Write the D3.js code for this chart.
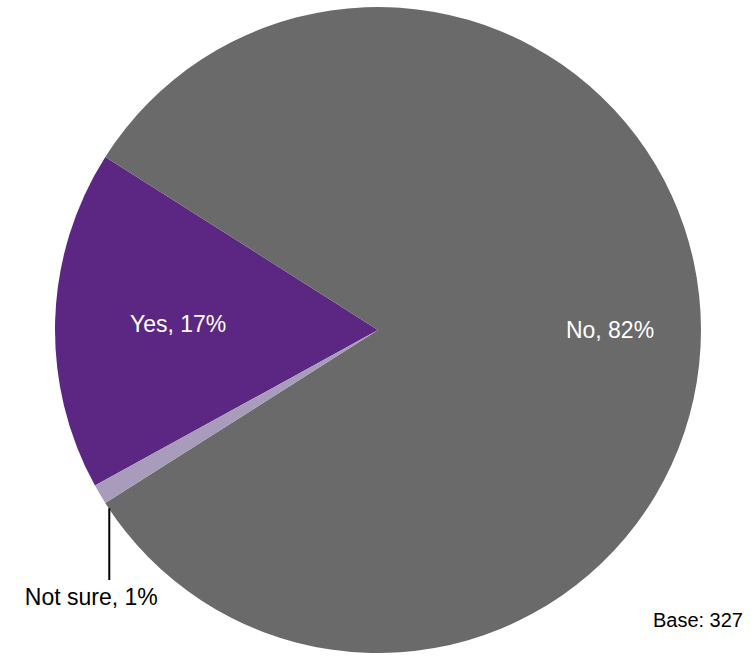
<!DOCTYPE html>
<html>
<head>
<meta charset="utf-8">
<script src="https://cdn.jsdelivr.net/npm/d3@7"></script>
<style>
  body { margin: 0; background: #fff; }
  text { font-family: "Liberation Sans", Arial, sans-serif; }
</style>
</head>
<body>
<script>
const categories = ['Yes', 'No', 'Not sure'];
const values = [17, 82, 1];
const colors = ['#5c2783', '#6a6a6a', '#a99bbb'];
const baseLabel = 'Base: 327';

const svgWidth = 754;
const svgHeight = 656;
const cx = 378, cy = 330, radius = 323;

const data = categories.map((c, i) => ({name: c, value: values[i], color: colors[i]}));

const svg = d3.select('body').append('svg')
    .attr('width', svgWidth)
    .attr('height', svgHeight);

const g = svg.append('g').attr('transform', `translate(${cx}, ${cy})`);

const startDeg = 241.2;
const pie = d3.pie()
    .value(d => d.value)
    .sort(null)
    .startAngle(startDeg * Math.PI / 180)
    .endAngle((startDeg + 360) * Math.PI / 180);

const arcs = pie(data);
const arc = d3.arc().innerRadius(0).outerRadius(radius);

g.selectAll('path')
    .data(arcs)
    .join('path')
    .attr('d', arc)
    .attr('fill', d => d.data.color);

// labels inside the two big slices
const labelRadius = {'Yes': 200, 'No': 232};
const inside = arcs.filter(d => labelRadius[d.data.name]);
g.selectAll('text.inside')
    .data(inside)
    .join('text')
    .attr('class', 'inside')
    .attr('transform', d => {
        const a = (d.startAngle + d.endAngle) / 2;
        const r = labelRadius[d.data.name];
        return `translate(${r * Math.sin(a)}, ${-r * Math.cos(a) + 8})`;
    })
    .attr('text-anchor', 'middle')
    .attr('font-size', 23)
    .attr('fill', '#fff')
    .text(d => `${d.data.name}, ${d.data.value}%`);

// leader line for the small slice
const small = arcs.find(d => d.data.name === 'Not sure');
const am = (small.startAngle + small.endAngle) / 2 - 0.02;
const px = 316 * Math.sin(am), py = -316 * Math.cos(am) + 12;
g.append('line')
    .attr('x1', px).attr('y1', py)
    .attr('x2', px).attr('y2', 250)
    .attr('stroke', '#000')
    .attr('stroke-width', 2);
g.append('text')
    .attr('x', px - 18)
    .attr('y', 275)
    .attr('text-anchor', 'middle')
    .attr('font-size', 23)
    .attr('fill', '#000')
    .text(`${small.data.name}, ${small.data.value}%`);

svg.append('text')
    .attr('x', 743)
    .attr('y', 627)
    .attr('text-anchor', 'end')
    .attr('font-size', 20)
    .attr('fill', '#000')
    .text(baseLabel);
</script>
</body>
</html>
